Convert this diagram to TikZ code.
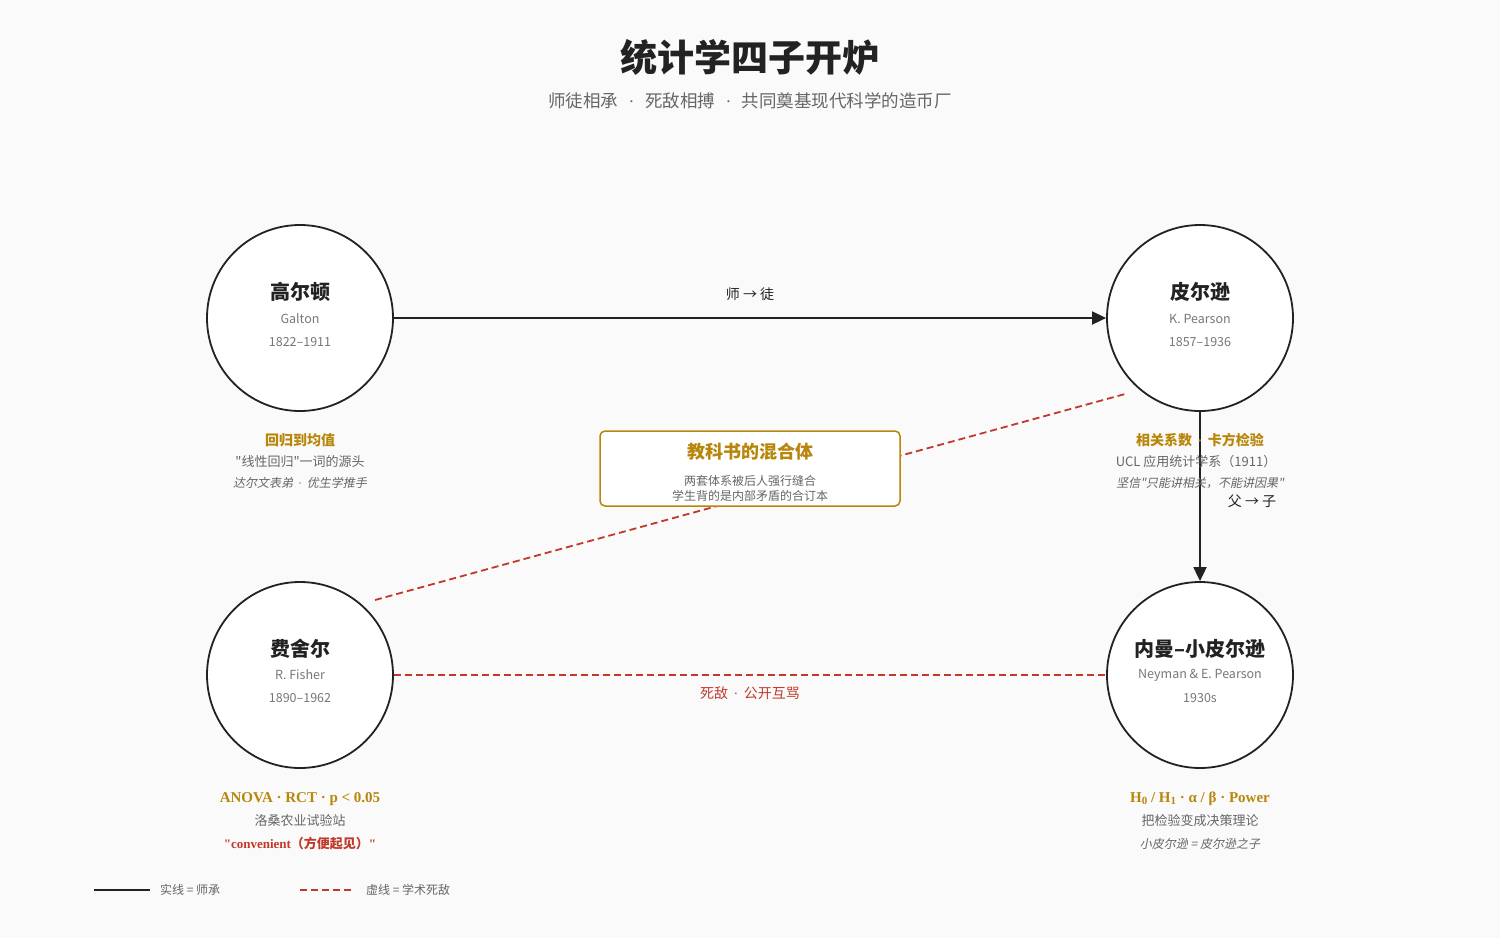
\documentclass[tikz,border=0pt]{standalone}
\usepackage{fontspec}
\setmainfont{Noto Sans CJK SC}
\newfontfamily\cjk{Noto Sans CJK SC}
\newfontfamily\cjkit[FakeSlant=0.2]{Noto Sans CJK SC}
\newfontfamily\serifl{Liberation Serif}
\usetikzlibrary{arrows.meta}
\definecolor{bgc}{HTML}{FAFAFA}
\definecolor{ink}{HTML}{222222}
\definecolor{gold}{HTML}{B8860B}
\definecolor{foe}{HTML}{C0392B}
\definecolor{gry}{HTML}{666666}
\definecolor{lgry}{HTML}{777777}
\newcommand\fz[1]{\fontsize{#1}{#1}\selectfont}
\newcommand\md{\hspace{0.4em}{\serifl ·}\hspace{0.4em}}
\newcommand\mdw{\hspace{0.6em}{\serifl ·}\hspace{0.6em}}
\tikzset{
  person/.style={circle,draw=ink,line width=1.8pt,fill=white,minimum size=186pt,inner sep=0pt},
  pname/.style={font=\cjk\bfseries\fz{20},text=ink,inner sep=0pt},
  psub/.style={font=\cjk\fz{12.5},text=lgry,inner sep=0pt},
  gtag/.style={font=\cjk\bfseries\fz{14},text=gold,inner sep=0pt},
  gline/.style={font=\cjk\fz{13},text=gry,inner sep=0pt},
  iline/.style={font=\cjkit\fz{12},text=gry,inner sep=0pt},
  mentor/.style={draw=ink,line width=1.8pt,-{Triangle[length=14pt,width=13pt]}},
  rival/.style={draw=foe,line width=1.8pt,dash pattern=on 7pt off 4pt},
  elabel/.style={font=\cjk\fz{14},text=ink,inner sep=0pt},
  leg/.style={font=\cjk\fz{12},text=gry,anchor=west,inner sep=0pt}
}
\begin{document}
\begin{tikzpicture}[x=1pt,y=-1pt]
\fill[bgc] (0,0) rectangle (1500,938);
\useasboundingbox (0,0) rectangle (1500,938);

% title
\node[font=\cjk\bfseries\fz{37},text=ink] (title) at (750,57) {统计学四子开炉};
\node[font=\cjk\fz{17.5},text=gry] (subtitle) at (750,101) {师徒相承\mdw{}死敌相搏\mdw{}共同奠基现代科学的造币厂};

% circles
\node[person] (galton) at (300,318) {};
\node[person] (pearson) at (1200,318) {};
\node[person] (fisher) at (300,675) {};
\node[person] (neyman) at (1200,675) {};

% Fisher--Pearson rivalry (behind box)
\coordinate (fpA) at (375,600);
\coordinate (fpB) at (1125,394);
\draw[rival] (fpA) -- (fpB);

% box
\node[draw=gold,line width=1.5pt,fill=white,rounded corners=5pt,minimum width=300pt,minimum height=75pt] (box) at (750,468.5) {};
\node[font=\cjk\bfseries\fz{18},text=gold] (boxt) at (750,452) {教科书的混合体};
\node[font=\cjk\fz{12},text=gry] (boxl1) at (750,481) {两套体系被后人强行缝合};
\node[font=\cjk\fz{12},text=gry] (boxl2) at (750,496) {学生背的是内部矛盾的合订本};

% mentor edges
\draw[mentor] (galton.east) -- (pearson.west);
\node[elabel] (e1) at (750,294) {师 → 徒};
\draw[mentor] (pearson.south) -- (neyman.north);
\node[elabel] (e2) at (1252,501) {父 → 子};

% rival edge
\draw[rival] (fisher.east) -- (neyman.west);
\node[font=\cjk\fz{14},text=foe] (e3) at (750,693) {死敌\md{}公开互骂};

% names
\node[pname] (gn) at (300,292) {高尔顿};
\node[psub] (gs1) at (300,319) {Galton};
\node[psub] (gs2) at (300,342) {1822–1911};
\node[pname] (pn) at (1200,292) {皮尔逊};
\node[psub] (ps1) at (1200,319) {K. Pearson};
\node[psub] (ps2) at (1200,342) {1857–1936};
\node[pname] (fn) at (300,649) {费舍尔};
\node[psub] (fs1) at (300,675) {R. Fisher};
\node[psub] (fs2) at (300,698) {1890–1962};
\node[pname] (nn) at (1200,649) {内曼–小皮尔逊};
\node[psub] (ns1) at (1200,675) {Neyman \& E. Pearson};
\node[psub] (ns2) at (1200,698) {1930s};

% annotations
\node[gtag] (ga1) at (300,440) {回归到均值};
\node[gline] (ga2) at (300,462) {"线性回归"一词的源头};
\node[iline] (ga3) at (300,483) {达尔文表弟\md{}优生学推手};

\node[gtag] (pa1) at (1200,440) {相关系数\md{}卡方检验};
\node[gline] (pa2) at (1196,462) {UCL 应用统计学系（1911）};
\node[iline] (pa3) at (1200,483) {坚信"只能讲相关，不能讲因果"};

\node[font=\serifl\bfseries\fz{15},text=gold,inner sep=0pt] (fa1) at (300,799) {ANOVA · RCT · p < 0.05};
\node[gline] (fa2) at (300,821) {洛桑农业试验站};
\node[font=\bfseries\fz{13},text=foe,inner sep=0pt] (fa3) at (300,844) {\serifl"convenient\cjk（方便起见）\serifl"};

\node[font=\serifl\bfseries\fz{15},text=gold,inner sep=0pt] (na1) at (1200,799) {H\raisebox{-0.25ex}{\fz{11}0} / H\raisebox{-0.25ex}{\fz{11}1} · α / β · Power};
\node[gline] (na2) at (1200,821) {把检验变成决策理论};
\node[iline] (na3) at (1200,844) {小皮尔逊 = 皮尔逊之子};

% legend
\coordinate (l1a) at (94,890);
\coordinate (l1b) at (150,890);
\draw[ink,line width=2pt] (l1a) -- (l1b);
\node[leg] (lt1) at (160,890) {实线 = 师承};
\coordinate (l2a) at (300,890);
\coordinate (l2b) at (354,890);
\draw[rival] (l2a) -- (l2b);
\node[leg] (lt2) at (366,890) {虚线 = 学术死敌};
\end{tikzpicture}
\end{document}
